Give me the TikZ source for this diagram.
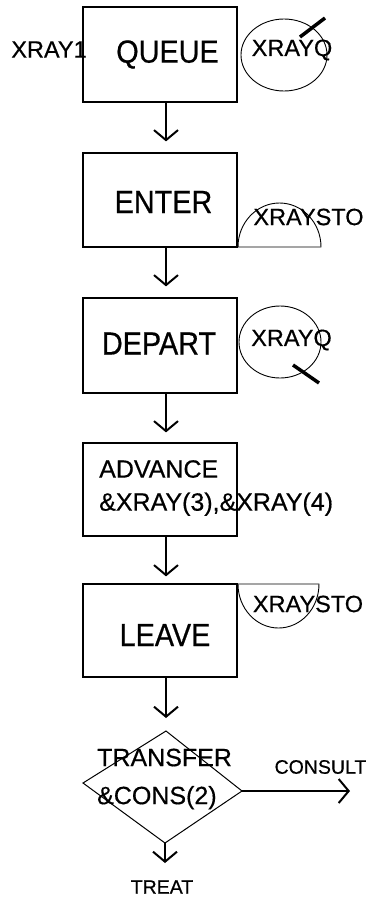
\documentclass[tikz,border=0pt]{standalone}
\usepackage{fontspec}
\setmainfont{Liberation Sans}[FakeBold=0.5]
\newfontfamily\bigfont{Liberation Sans}[FakeStretch=0.9,FakeBold=0.6]
\usetikzlibrary{arrows.meta,shapes.geometric}
\begin{document}
\begin{tikzpicture}[x=1pt,y=-1pt,
  box/.style={draw,line width=1.2pt,minimum width=154pt,inner sep=0pt},
  big/.style={font=\bigfont\fontsize{32}{36}\selectfont,inner sep=0pt},
  mid/.style={font=\fontsize{25}{33}\selectfont,inner sep=0pt,align=left},
  lab/.style={font=\fontsize{23.5}{28}\selectfont,inner sep=0pt},
  small/.style={font=\fontsize{19.5}{24}\selectfont,inner sep=0pt},
  flow/.style={line width=2pt,-{Straight Barb[length=10pt,width=24pt,line width=2pt]}},
  ring/.style={draw,line width=0.9pt,ellipse,inner sep=0pt},
  tick/.style={line width=3.5pt}]
\useasboundingbox (0,0) rectangle (373,900);
% boxes
\node[box,minimum height=95pt,label={[big,xshift=7.5pt]center:QUEUE}] (queue) at (160,54.5) {};
\node[box,minimum height=94pt,label={[big,xshift=3.5pt,yshift=-2pt]center:ENTER}] (enter) at (160,200) {};
\node[box,minimum height=95pt,label={[big,xshift=-1pt,yshift=2pt]center:DEPART}] (depart) at (160,345.5) {};
\node[box,minimum height=93pt] (advance) at (160,489.5) {};
\node[mid,anchor=west] (advtext) at (99,488) {ADVANCE\\\&XRAY(3),\&XRAY(4)};
\node[box,minimum height=93pt,label={[big,xshift=5pt,yshift=-4.5pt]center:LEAVE}] (leave) at (160,630.5) {};
% diamond
\coordinate (dt) at (166,731);
\coordinate (dr) at (242,791);
\coordinate (db) at (165,843);
\coordinate (dl) at (83,783);
\draw[line width=1pt] (dt) -- (dr) -- (db) -- (dl) -- cycle;
\node[font=\fontsize{25}{38}\selectfont,inner sep=0pt,align=left,anchor=west] (transfer) at (97,779) {TRANSFER\\\&CONS(2)};
% side labels
\node[lab] (xray1) at (49,49.5) {XRAY1};
\node[ring,minimum width=86pt,minimum height=72pt] (q1) at (284,55) {};
\node[lab] (q1t) at (292,50) {XRAYQ};
\draw[tick] (300,37) -- (325,18);
\draw[line width=0.9pt] (238,247) arc[start angle=180,end angle=0,x radius=41.5pt,y radius=44pt] -- cycle;
\node[lab] (sto1) at (308.5,217) {XRAYSTO};
\node[ring,minimum width=82pt,minimum height=72pt] (q2) at (280,342) {};
\node[lab] (q2t) at (291.5,340) {XRAYQ};
\draw[tick] (293,365) -- (319,383);
\draw[line width=0.9pt] (238,584) arc[start angle=180,end angle=360,x radius=40.5pt,y radius=44pt] -- cycle;
\node[lab] (sto2) at (308,604) {XRAYSTO};
% arrows
\draw[flow] ([xshift=6pt]queue.south) -- ([xshift=6pt,yshift=11pt]enter.north);
\draw[flow] ([xshift=6pt]enter.south) -- ([xshift=6pt,yshift=11pt]depart.north);
\draw[flow] ([xshift=6pt]depart.south) -- ([xshift=6pt,yshift=10pt]advance.north);
\draw[flow] ([xshift=6pt]advance.south) -- ([xshift=6pt,yshift=7pt]leave.north);
\draw[flow] ([xshift=6pt]leave.south) -- ([yshift=13pt]dt);
\coordinate (treatend) at (165,863);
\coordinate (consultend) at (350,791);
\draw[flow] (db) -- (treatend);
\draw[flow] (dr) -- (consultend);
\node[small] (treat) at (162,887) {TREAT};
\node[small] (consult) at (320.5,767) {CONSULT};
\end{tikzpicture}
\end{document}
